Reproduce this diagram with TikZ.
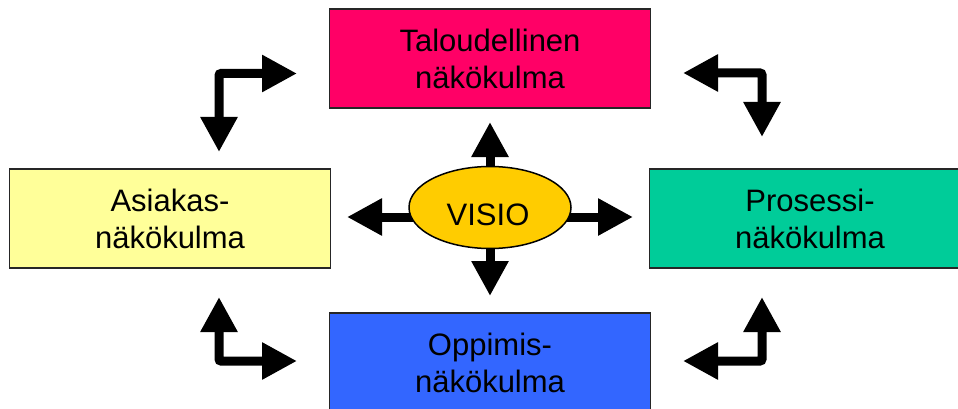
\documentclass[tikz,border=0pt]{standalone}
\usepackage{fontspec}
\setmainfont{Liberation Sans}
\usetikzlibrary{arrows.meta,shapes.geometric,backgrounds}
\definecolor{cTop}{HTML}{FF0066}
\definecolor{cLeft}{HTML}{FFFF99}
\definecolor{cRight}{HTML}{00CC99}
\definecolor{cBottom}{HTML}{3366FF}
\definecolor{cVisio}{HTML}{FFCC00}
\tikzset{
  persp/.style={draw=black!85, line width=1.5pt, rectangle, inner sep=0pt,
    minimum width=321pt, minimum height=99pt, align=center,
    font=\fontsize{31}{37}\selectfont},
  fat/.style={line width=9pt, -{Triangle[length=35pt,width=35pt]}},
  fatboth/.style={line width=9pt, rounded corners=2pt,
    {Triangle[length=35pt,width=35pt]}-{Triangle[length=35pt,width=35pt]}},
}
\begin{document}
\begin{tikzpicture}[x=1pt,y=-1pt]
\clip (0,0) rectangle (958,409);
% boxes
\node[persp, fill=cTop]    (top)    at (490,58.5)  {Taloudellinen\\näkökulma};
\node[persp, fill=cLeft]   (left)   at (170,218.5) {Asiakas-\\näkökulma};
\node[persp, fill=cRight]  (right)  at (810,218.5) {Prosessi-\\näkökulma};
\node[persp, fill=cBottom] (bottom) at (490,362.5) {Oppimis-\\näkökulma};
% central ellipse
\node[ellipse, draw=black, line width=1.5pt, fill=cVisio, inner sep=0pt,
      minimum width=162pt, minimum height=82pt] (visio) at (490,207.5) {};
\node[anchor=base, inner sep=0pt, font=\fontsize{31}{37}\selectfont] (visiotext) at (488,225) {VISIO};
% central arrow tips
\coordinate (tipN) at (490,122);
\coordinate (tipS) at (490,296);
\coordinate (tipW) at (347,217);
\coordinate (tipE) at (633,217);
\begin{scope}[on background layer]
\fill[white] (0,0) rectangle (958,409);
\draw[fat] (visio.center) -- (tipN);
\draw[fat] (visio.center) -- (tipS);
\draw[fat] (tipW -| visio.center) -- (tipW);
\draw[fat] (tipE -| visio.center) -- (tipE);
\end{scope}
% corner arrows
\coordinate (tlc) at (219,73.5);
\coordinate (tlR) at (297,73.5);
\coordinate (tlD) at (219,152);
\draw[fatboth] (tlR) -- (tlc) -- (tlD);
\coordinate (trc) at (762,73);
\coordinate (trL) at (683,73);
\coordinate (trD) at (762,137);
\draw[fatboth] (trL) -- (trc) -- (trD);
\coordinate (blc) at (219,361);
\coordinate (blU) at (219,297);
\coordinate (blR) at (297,361);
\draw[fatboth] (blU) -- (blc) -- (blR);
\coordinate (brc) at (762,361);
\coordinate (brU) at (762,297);
\coordinate (brL) at (683,361);
\draw[fatboth] (brU) -- (brc) -- (brL);
\end{tikzpicture}
\end{document}
